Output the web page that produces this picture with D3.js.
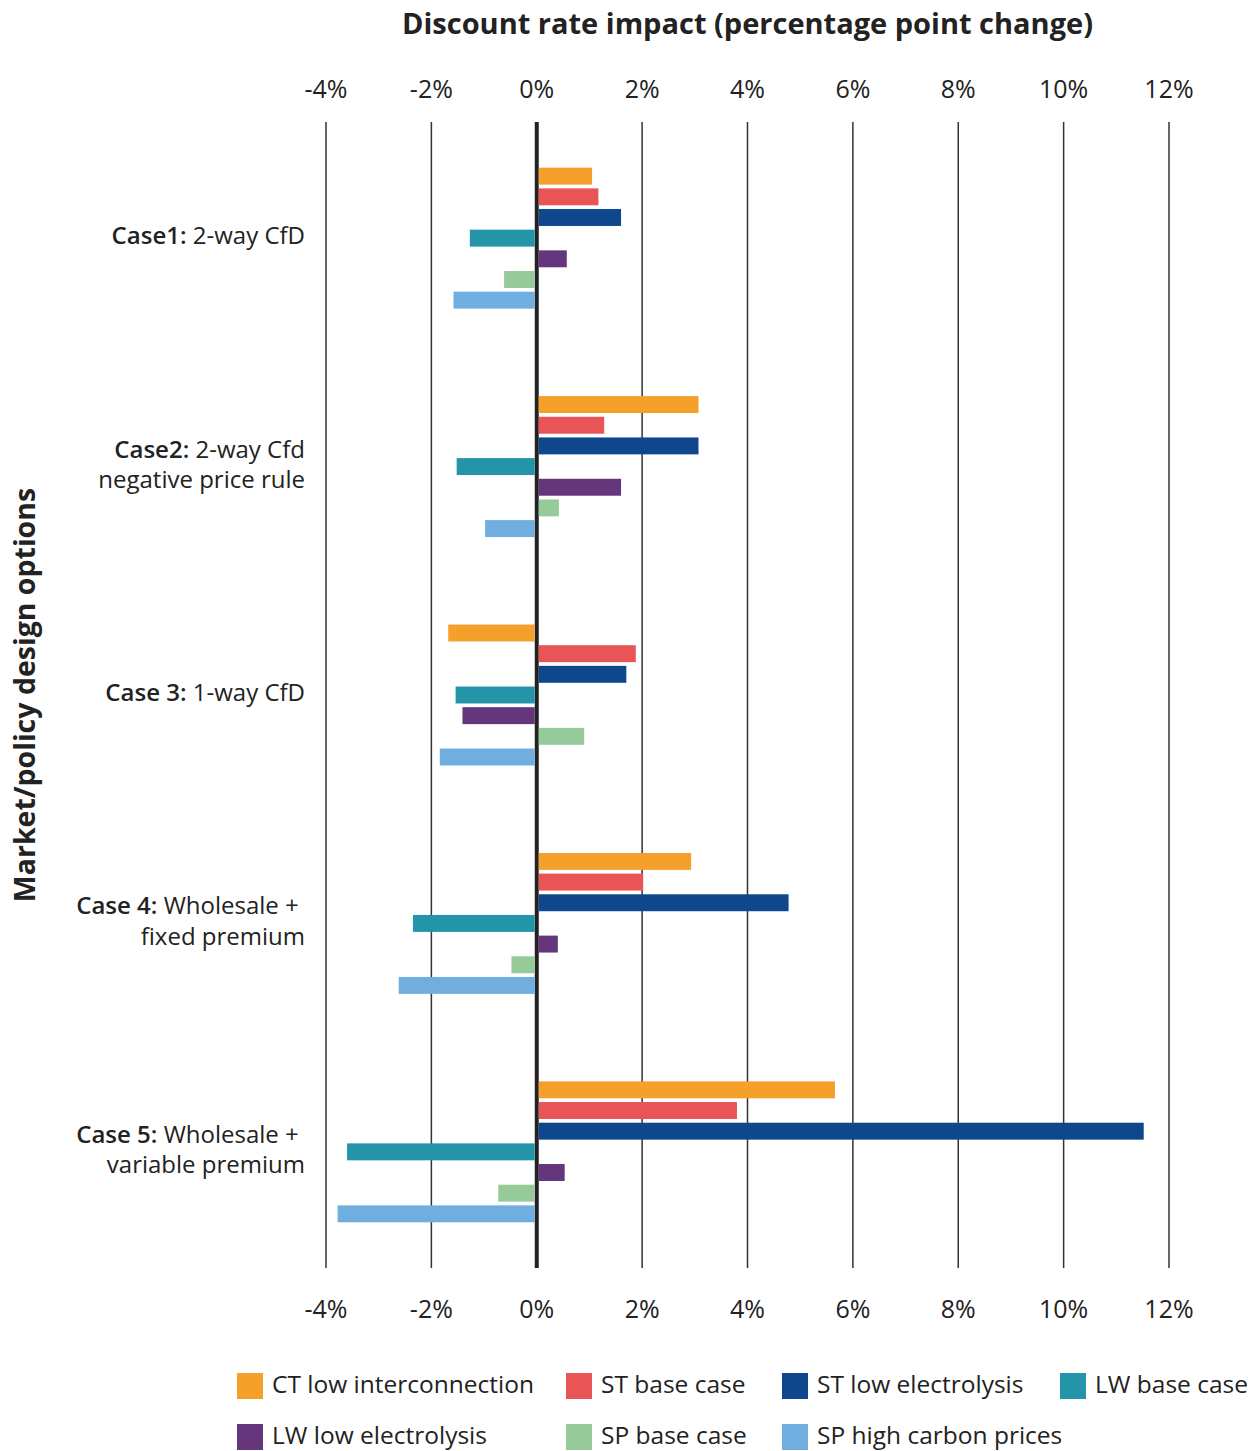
<!DOCTYPE html>
<html>
<head>
<meta charset="utf-8">
<script src="https://cdn.jsdelivr.net/npm/d3@7"></script>
<style>
  body { margin: 0; background: #fff; }
  svg { font-family: "Open Sans", Lato, sans-serif; }
</style>
</head>
<body>
<svg id="chart" width="1259" height="1451"></svg>
<script>
// categories (each label may have two lines, first bold part separate)
const cases = ["Case1", "Case2", "Case3", "Case4", "Case5"];
const caseBold = ["Case1:", "Case2:", "Case 3:", "Case 4:", "Case 5:"];
const caseLine1 = [" 2-way CfD", " 2-way Cfd", " 1-way CfD", " Wholesale +\u00a0", " Wholesale +\u00a0"];
const caseLine2 = ["", "negative price rule", "", "fixed premium", "variable premium"];

const seriesNames = ["CT low interconnection", "ST base case", "ST low electrolysis", "LW base case",
  "LW low electrolysis", "SP base case", "SP high carbon prices"];
const seriesColors = ["#f5a02a", "#e95457", "#0e478c", "#2494a9", "#65367b", "#96ca98", "#70aedf"];

// values in percentage points, one array per series (Case1..Case5)
const ctLowInterconnection = [1.05, 3.07, -1.68, 2.93, 5.66];
const stBaseCase = [1.17, 1.28, 1.88, 2.02, 3.80];
const stLowElectrolysis = [1.60, 3.07, 1.70, 4.78, 11.52];
const lwBaseCase = [-1.27, -1.52, -1.54, -2.35, -3.60];
const lwLowElectrolysis = [0.57, 1.60, -1.41, 0.40, 0.53];
const spBaseCase = [-0.62, 0.42, 0.90, -0.48, -0.73];
const spHighCarbon = [-1.58, -0.98, -1.84, -2.62, -3.78];

const xTicks = [-4, -2, 0, 2, 4, 6, 8, 10, 12];

const seriesValues = [ctLowInterconnection, stBaseCase, stLowElectrolysis, lwBaseCase,
  lwLowElectrolysis, spBaseCase, spHighCarbon];

const svg = d3.select("#chart");
const plotLeft = 326, plotRight = 1169, plotTop = 122, plotBottom = 1268;

const x = d3.scaleLinear().domain([-4, 12]).range([plotLeft, plotRight]);
const y0 = d3.scaleBand().domain(cases).range([plotTop, plotBottom]).paddingInner(0.383).paddingOuter(0.2);
const y1 = d3.scaleBand().domain(seriesNames).range([0, y0.bandwidth()]).paddingInner(0.18);

// gridlines
svg.append("g").selectAll("line")
  .data(xTicks)
  .join("line")
  .attr("x1", d => x(d)).attr("x2", d => x(d))
  .attr("y1", plotTop).attr("y2", plotBottom)
  .attr("stroke", d => d === 0 ? "#222" : "#333")
  .attr("stroke-width", d => d === 0 ? 4 : 1.5);

// tick labels top + bottom
const fmt = d => d + "%";
[91, 1311].forEach(ty => {
  svg.append("g").selectAll("text")
    .data(xTicks)
    .join("text")
    .attr("x", d => x(d)).attr("y", ty)
    .attr("text-anchor", "middle")
    .attr("dominant-baseline", "middle")
    .attr("font-size", 25)
    .attr("fill", "#222")
    .text(fmt);
});

// bars
const groups = svg.append("g").selectAll("g")
  .data(cases)
  .join("g")
  .attr("transform", d => `translate(0,${y0(d)})`);

groups.selectAll("rect")
  .data((c, i) => seriesNames.map((s, j) => ({ s, j, v: seriesValues[j][i] })))
  .join("rect")
  .attr("x", d => d.v < 0 ? x(d.v) : x(0) + 2)
  .attr("width", d => d.v < 0 ? x(0) - 2 - x(d.v) : x(d.v) - x(0) - 2)
  .attr("y", d => y1(d.s))
  .attr("height", y1.bandwidth())
  .attr("fill", d => seriesColors[d.j]);

// category labels
const labelX = 305;
cases.forEach((c, i) => {
  const cy = y0(c) + y0.bandwidth() / 2;
  const twoLine = caseLine2[i] !== "";
  const t = svg.append("text")
    .attr("x", labelX)
    .attr("y", twoLine ? cy - 15 : cy)
    .attr("text-anchor", "end")
    .attr("dominant-baseline", "middle")
    .attr("font-size", 24)
    .attr("fill", "#222");
  t.append("tspan").attr("font-weight", 600).text(caseBold[i]);
  t.append("tspan").text(caseLine1[i]);
  if (twoLine) {
    svg.append("text")
      .attr("x", labelX)
      .attr("y", cy + 15)
      .attr("text-anchor", "end")
      .attr("dominant-baseline", "middle")
      .attr("font-size", 24)
      .attr("fill", "#222")
      .text(caseLine2[i]);
  }
});

// titles
svg.append("text")
  .attr("x", (plotLeft + plotRight) / 2).attr("y", 26)
  .attr("text-anchor", "middle")
  .attr("dominant-baseline", "middle")
  .attr("font-size", 29)
  .attr("font-weight", "bold")
  .attr("fill", "#222")
  .text("Discount rate impact (percentage point change)");

svg.append("text")
  .attr("transform", `translate(27,${(plotTop + plotBottom) / 2}) rotate(-90)`)
  .attr("text-anchor", "middle")
  .attr("dominant-baseline", "middle")
  .attr("font-size", 28.5)
  .attr("font-weight", "bold")
  .attr("fill", "#222")
  .text("Market/policy design options");

// legend
const legendCols = [237, 566, 782, 1060];
const legendRows = [1386, 1437];
const legend = svg.append("g").selectAll("g")
  .data(seriesNames)
  .join("g")
  .attr("transform", (d, i) => `translate(${legendCols[i % 4]},${legendRows[Math.floor(i / 4)]})`);
legend.append("rect")
  .attr("x", 0).attr("y", -13)
  .attr("width", 26).attr("height", 26)
  .attr("fill", (d, i) => seriesColors[i]);
legend.append("text")
  .attr("x", 35).attr("y", 0)
  .attr("dominant-baseline", "middle")
  .attr("font-size", 24.5)
  .attr("fill", "#222")
  .text(d => d);
</script>
</body>
</html>
